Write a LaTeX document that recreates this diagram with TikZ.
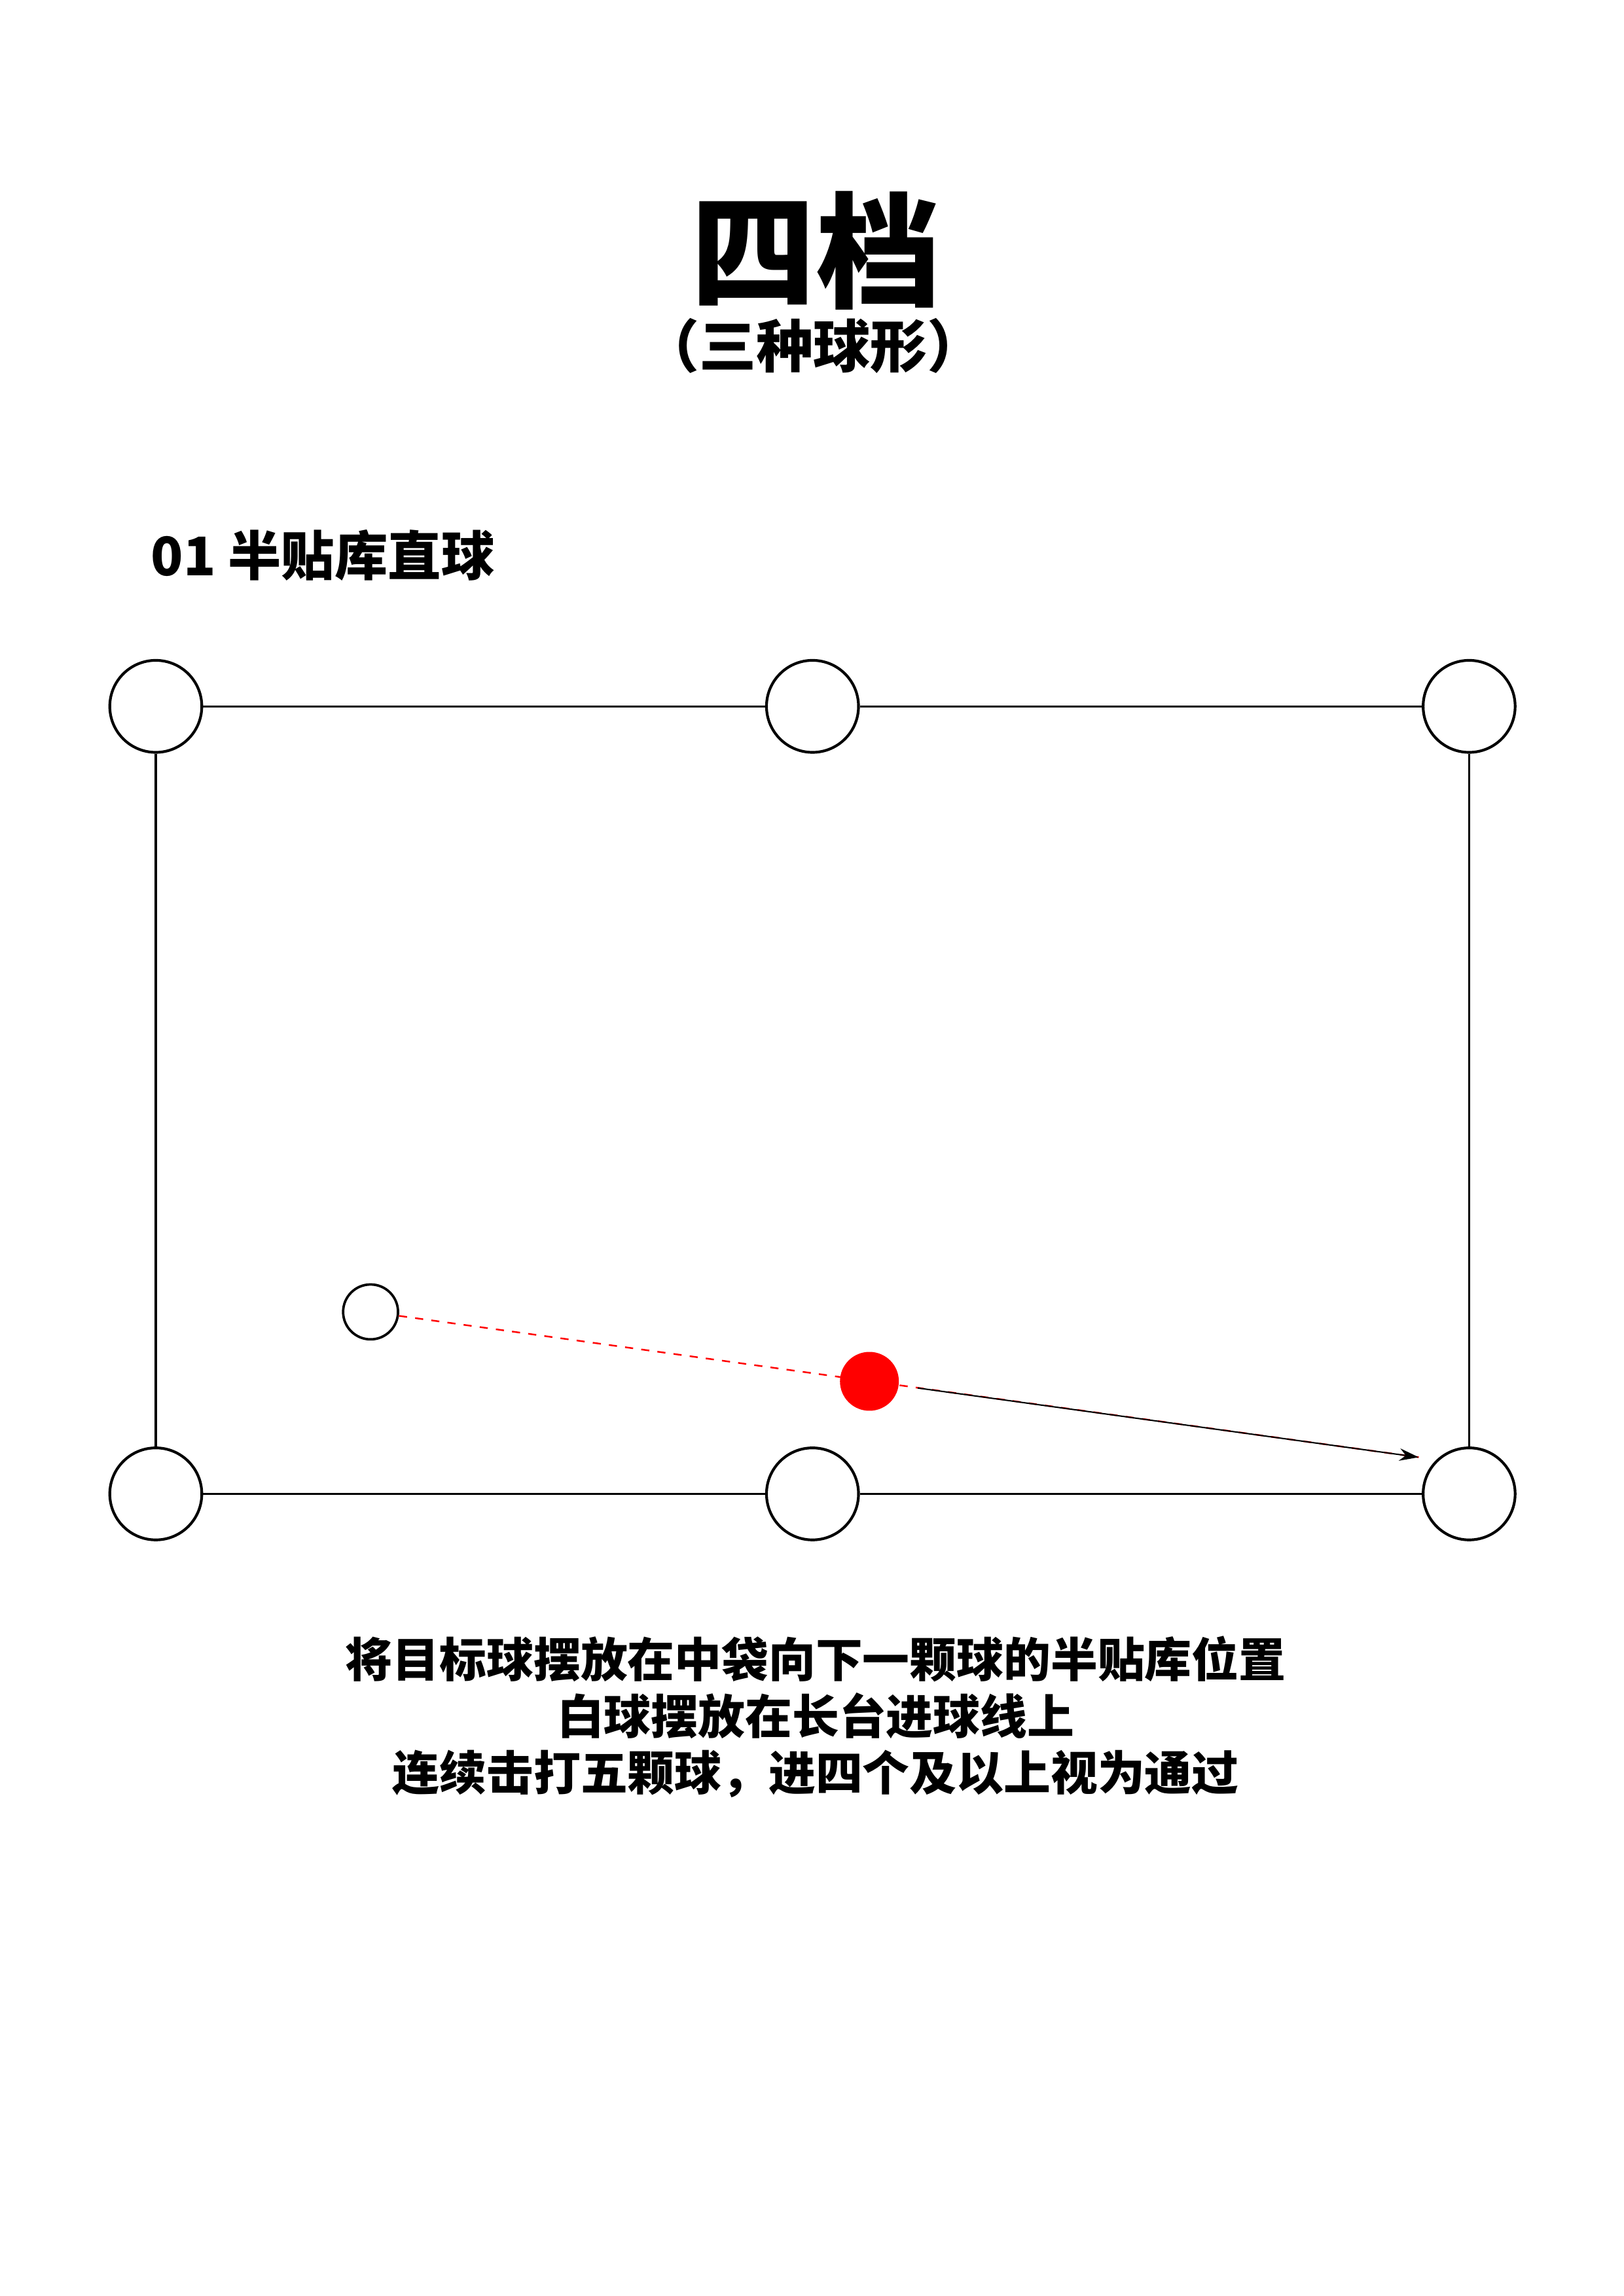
\documentclass[tikz,border=0pt]{standalone}
\usepackage{fontspec}
\setmainfont{Noto Sans CJK SC}[BoldFont={Noto Sans CJK SC Black}]
\usetikzlibrary{arrows.meta, positioning}

\begin{document}
\begin{tikzpicture}[
    pocket/.style={circle, draw, line width=1pt, minimum size=1.19cm, inner sep=0pt, fill=white},
    ball/.style={circle, draw, line width=0.9pt, minimum size=0.71cm, inner sep=0pt},
    rail/.style={line width=0.8pt},
    note/.style={font=\bfseries\fontsize{17.3}{20.8}\selectfont, align=center}]
    \useasboundingbox (0,0) rectangle (21,-29.7);

    % Title
    \node[font=\bfseries\fontsize{46}{52}\selectfont] (title) at (10.55,-3.24) {四档};
    \node[font=\bfseries\fontsize{21}{24}\selectfont] (subtitle) at (10.52,-4.47) {（三种球形）};

    % Section
    \node[anchor=west, font=\bfseries\fontsize{19.6}{22}\selectfont] (section) at (1.83,-7.18) {01 半贴库直球};

    % Pockets
    \node[pocket] (tl) at (2.015,-9.137) {};
    \node[pocket] (tm) at (10.509,-9.137) {};
    \node[pocket] (tr) at (19.002,-9.137) {};
    \node[pocket] (bl) at (2.015,-19.324) {};
    \node[pocket] (bm) at (10.509,-19.324) {};
    \node[pocket] (br) at (19.002,-19.324) {};

    % Rails
    \draw[rail] (tl) -- (tm);
    \draw[rail] (tm) -- (tr);
    \draw[rail] (bl) -- (bm);
    \draw[rail] (bm) -- (br);
    \draw[rail] (tl) -- (bl);
    \draw[rail] (tr) -- (br);

    % Shot line
    \coordinate (aim) at (18.35,-18.85);
    \node[ball, fill=white] (cue) at (4.793,-16.97) {};
    \draw[red, dashed, line width=0.6pt] (cue) -- (aim);
    \node[ball, draw=red, fill=red, minimum size=0.73cm] (target) at (11.245,-17.868) {};
    \draw[-{Stealth[length=2.5mm, width=1.6mm]}, line width=0.5pt, shorten <=0.25cm] (target) -- (aim);

    % Notes
    \node[note] (rules) at (10.55,-22.21) {将目标球摆放在中袋向下一颗球的半贴库位置\\白球摆放在长台进球线上\\连续击打五颗球，进四个及以上视为通过};
\end{tikzpicture}
\end{document}
